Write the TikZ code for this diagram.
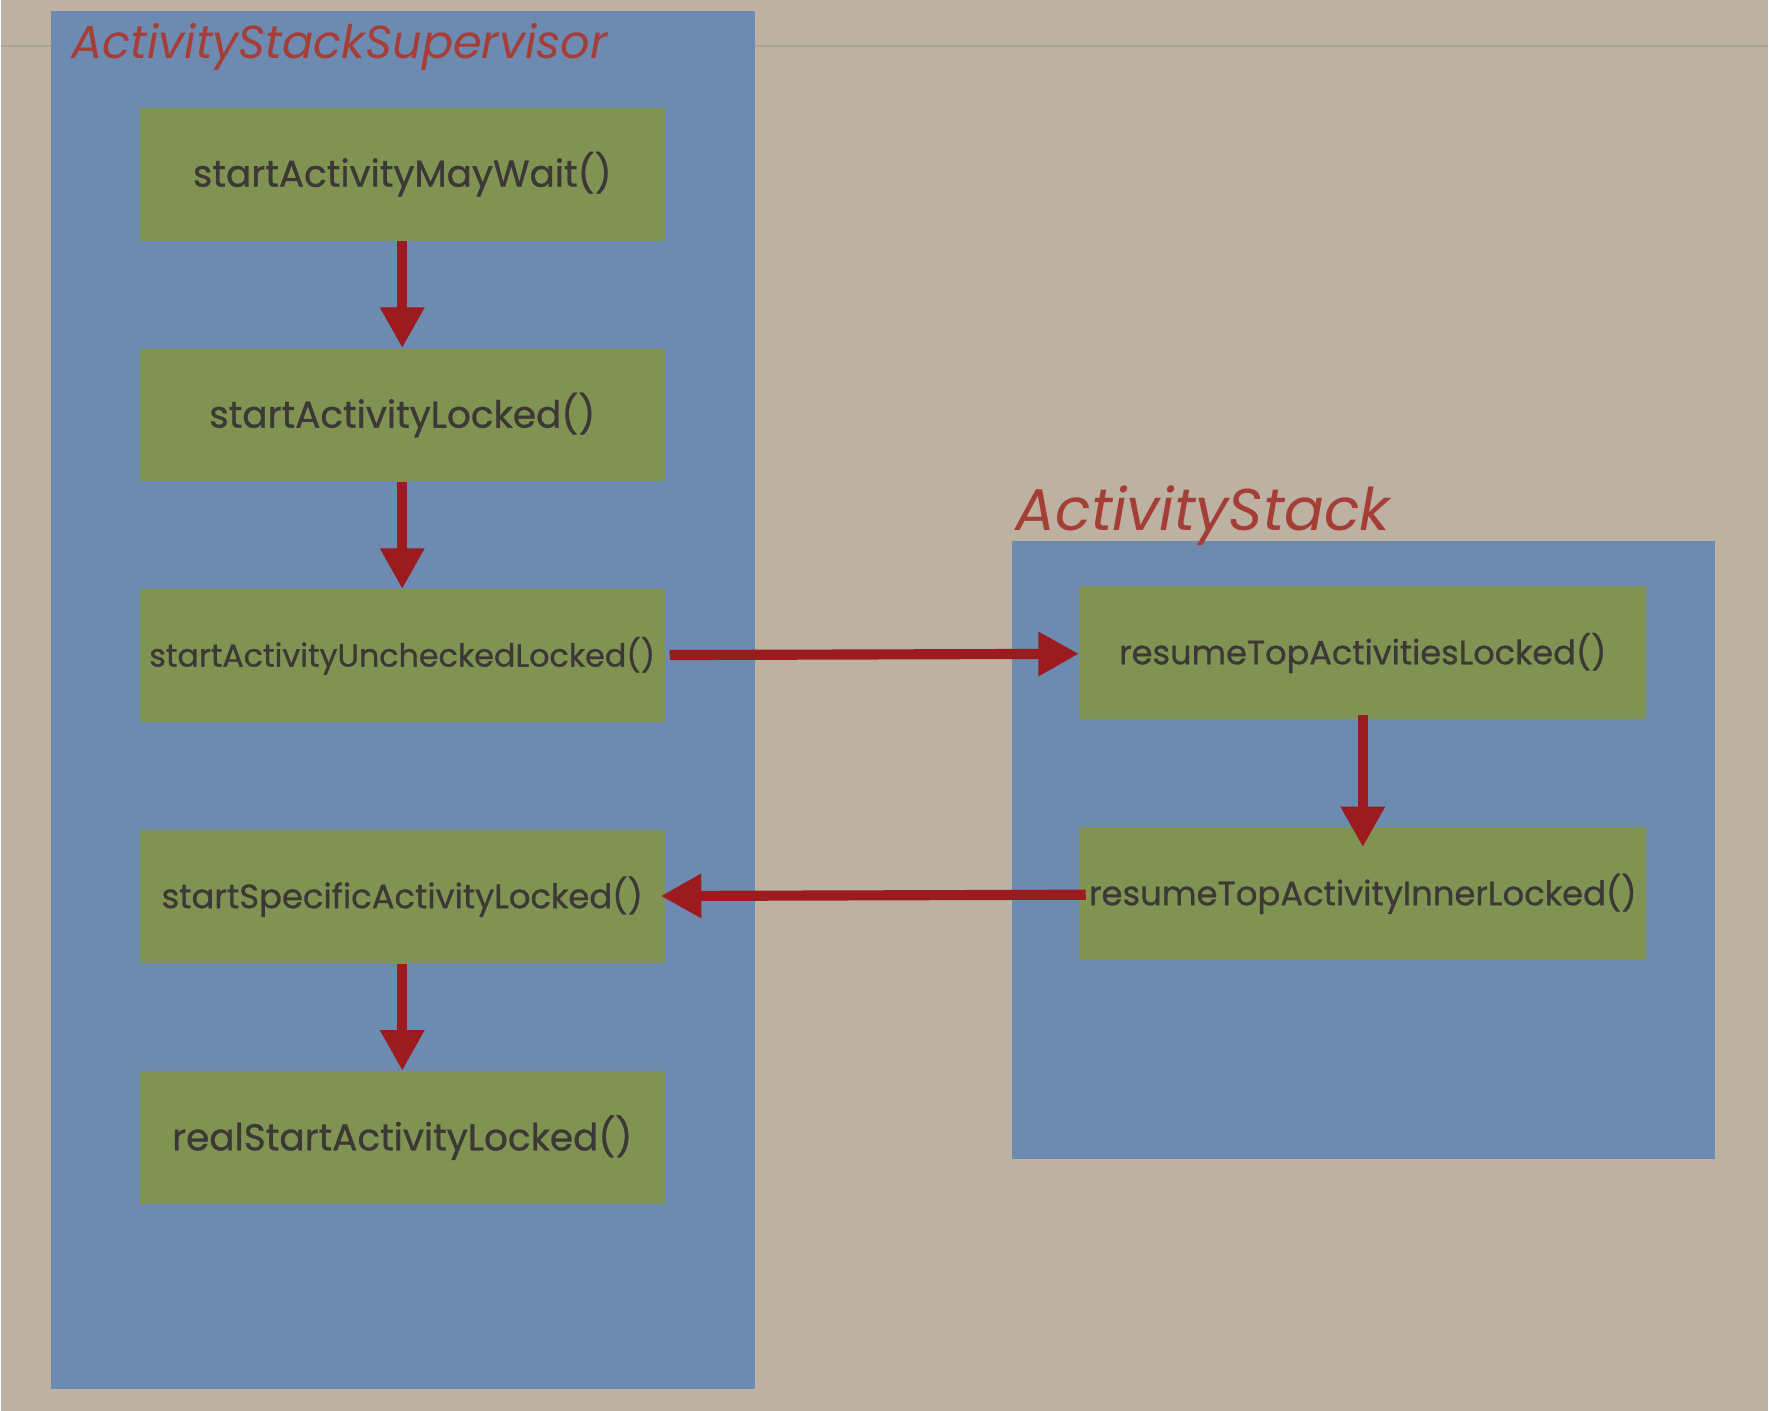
\documentclass[tikz,border=0pt]{standalone}
\usepackage{fontspec}
\setmainfont{Poppins}
\newfontfamily\callfont{Poppins}[FakeBold=0.8]
\usetikzlibrary{positioning,arrows.meta}
\definecolor{paper}{RGB}{189,177,162}
\definecolor{paperline}{RGB}{172,162,150}
\definecolor{stackblue}{RGB}{109,138,176}
\definecolor{callgreen}{RGB}{129,147,82}
\definecolor{calltext}{RGB}{60,56,54}
\definecolor{flowred}{RGB}{155,27,30}
\definecolor{titlered}{RGB}{166,62,56}
\tikzstyle{panel} = [fill=stackblue,draw=none]
\tikzstyle{call} = [fill=callgreen,rectangle,inner sep=0,minimum width=233pt,minimum height=59pt,text=calltext,font=\callfont\fontsize{16.6}{18}\selectfont]
\tikzstyle{flow} = [-{Triangle[length=18pt,width=18.5pt]},line width=4.5pt,draw=flowred]
\tikzstyle{title} = [anchor=base west,inner sep=0,text=titlered]
\def \gap {47.5pt}

\begin{document}
\begin{tikzpicture}[x=0.5pt,y=-0.5pt]
      \fill[paper] (0,0) rectangle (1568,1252);
      \draw[paperline,line width=1pt] (0,41) -- (1568,41);
      \fill[panel] (44,10) rectangle (669,1233);
      \fill[panel] (897,480) rectangle (1521,1029);
      \node[title,font=\itshape\fontsize{20.5}{24}\selectfont] (supervisor) at (62,52) {ActivityStackSupervisor};
      \node[title,font=\itshape\fontsize{26.1}{30}\selectfont] (stack) at (900,471) {ActivityStack};
      % ActivityStackSupervisor
      \node[call] (maywait) at (356,154.5) {startActivityMayWait()};
      \node[call,below=\gap of maywait] (locked) {startActivityLocked()};
      \node[call,below=\gap of locked,font=\callfont\fontsize{14.1}{16}\selectfont] (unchecked) {startActivityUncheckedLocked()};
      \node[call,below=\gap of unchecked,font=\callfont\fontsize{15}{17}\selectfont] (specific) {startSpecificActivityLocked()};
      \node[call,below=\gap of specific] (realstart) {realStartActivityLocked()};
      % ActivityStack
      \node[call,minimum width=251.5pt,font=\callfont\fontsize{14.9}{17}\selectfont] (resumeall) at (1208.5,579.5) {resumeTopActivitiesLocked()};
      \node[call,minimum width=251.5pt,below=\gap of resumeall,font=\callfont\fontsize{15}{17}\selectfont] (resumeinner) {resumeTopActivityInnerLocked()};
      \draw[flow] (maywait) -- (locked);
      \draw[flow] (locked) -- (unchecked);
      \draw[flow,shorten <=2pt] (unchecked) -- (resumeall);
      \draw[flow,shorten <=-2pt,shorten >=-9pt] (resumeall) -- (resumeinner);
      \draw[flow,shorten <=-3pt,shorten >=-2pt] (resumeinner) -- (specific);
      \draw[flow] (specific) -- (realstart);
    \end{tikzpicture}
\end{document}
